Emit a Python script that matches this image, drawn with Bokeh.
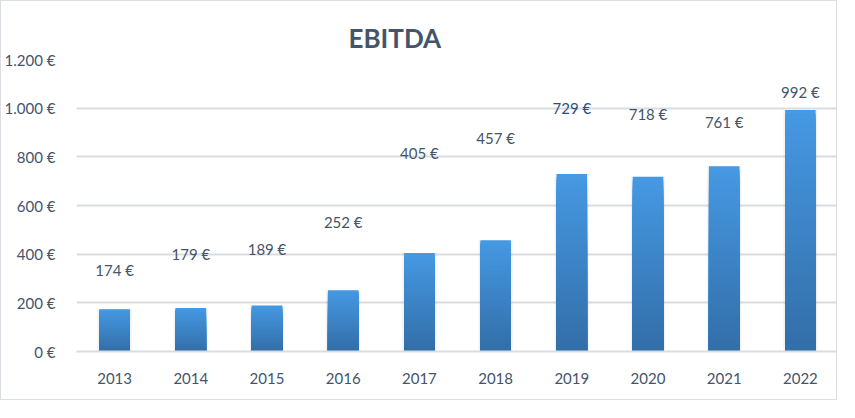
from bokeh.plotting import figure
from bokeh.models import ColumnDataSource, FixedTicker, CustomJSTickFormatter, Title
from bokeh.core.properties import value
from bokeh.embed import file_html
from bokeh.resources import INLINE

# data
years = ["2013", "2014", "2015", "2016", "2017", "2018", "2019", "2020", "2021", "2022"]
ebitda = [174, 179, 189, 252, 405, 457, 729, 718, 761, 992]
label_text = ["174 €", "179 €", "189 €", "252 €", "405 €", "457 €", "729 €", "718 €", "761 €", "992 €"]
# heights where the (hand placed) data labels sit
label_pos = [334, 400, 423, 533, 814, 879, 999, 975, 944, 1067]
y_ticks = [0, 200, 400, 600, 800, 1000, 1200]

FONT = "Lato"
TEXT = "#44546A"

p = figure(x_range=years, y_range=(0, 1200), width=837, height=400,
           output_backend="svg", toolbar_location=None,
           min_border_left=72, min_border_right=0,
           min_border_top=58, min_border_bottom=50)
p.styles = {"border": "1px solid #DADDE2"}
p.outline_line_color = None
p.background_fill_color = "white"
p.border_fill_color = "white"

# title
t = Title(text="EBITDA", text_font=FONT, text_font_size="26px", text_font_style="bold",
          text_color=TEXT, align="left", offset=272, standoff=12)
p.add_layout(t, "above")

# shadow behind bars
p.vbar(x=years, top=ebitda, width=0.45, fill_color="#000000", fill_alpha=0.05, line_color=None)

# bars with vertical gradient: nested bars, lightest (tallest) first
top_rgb = (0x46, 0x99, 0xE3)
bot_rgb = (0x33, 0x6E, 0xA8)
n = 60
xs, tops, cols = [], [], []
for k in range(n):
    f = (n - k) / n
    r = int(bot_rgb[0] + (top_rgb[0] - bot_rgb[0]) * f)
    g = int(bot_rgb[1] + (top_rgb[1] - bot_rgb[1]) * f)
    b = int(bot_rgb[2] + (top_rgb[2] - bot_rgb[2]) * f)
    for yr, v in zip(years, ebitda):
        xs.append(yr)
        tops.append(v * f)
        cols.append("#%02x%02x%02x" % (r, g, b))
src = ColumnDataSource(dict(x=xs, top=tops, color=cols))
p.vbar(x="x", top="top", width=0.4, fill_color="color", line_color=None, source=src)

# data labels
lab_colors = [TEXT] * len(years)
lab_colors[6] = "#2E4E7E"
lsrc = ColumnDataSource(dict(x=years, y=label_pos, text=label_text, c=lab_colors))
p.text(x="x", y="y", text="text", source=lsrc, text_align="center", text_baseline="middle",
       text_font=value(FONT), text_font_size="15px", text_color="c")

# axes and grid
p.yaxis.ticker = FixedTicker(ticks=y_ticks)
p.yaxis.formatter = CustomJSTickFormatter(code="""
    return tick.toString().replace(/\\B(?=(\\d{3})+(?!\\d))/g, '.') + ' €';
""")
p.yaxis.axis_line_color = None
p.yaxis.major_tick_line_color = None
p.yaxis.minor_tick_line_color = None
p.yaxis.major_label_standoff = 15
p.yaxis.major_label_text_font = FONT
p.yaxis.major_label_text_font_size = "15px"
p.yaxis.major_label_text_color = TEXT

p.xaxis.axis_line_color = "#D9DCE1"
p.xaxis.axis_line_width = 2
p.xaxis.major_tick_line_color = None
p.xaxis.major_label_standoff = 15
p.xaxis.major_label_text_font = FONT
p.xaxis.major_label_text_font_size = "15px"
p.xaxis.major_label_text_color = TEXT

p.xgrid.grid_line_color = None
p.ygrid.grid_line_color = "#D9DCE1"
p.ygrid.grid_line_width = 2

open("out.html", "w").write(file_html(p, INLINE))
